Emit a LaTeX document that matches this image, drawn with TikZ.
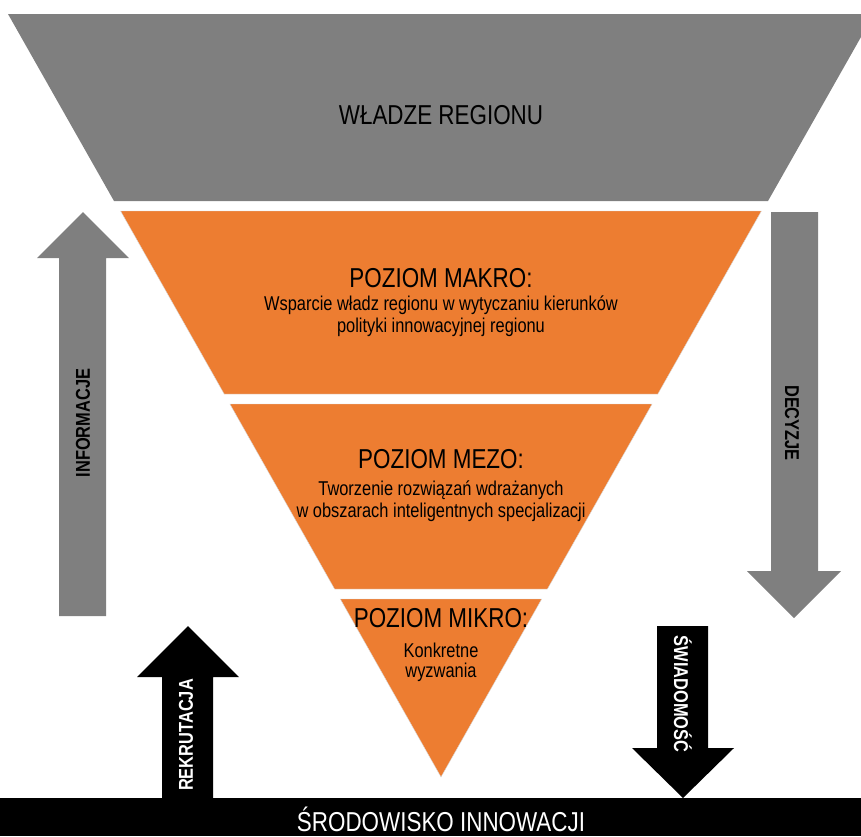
\documentclass[tikz,border=0pt]{standalone}
\usepackage{fontspec}
\setmainfont{Liberation Sans}[FakeStretch=0.82]
\definecolor{levelorange}{HTML}{ED7D31}
\definecolor{boxgray}{HTML}{7F7F7F}
\tikzset{
  level/.style={fill=levelorange,draw=white!70!gray,line width=0.3pt},
  leveltitle/.style={font=\fontsize{20.5}{24}\selectfont,anchor=base,inner sep=0pt},
  leveltext/.style={font=\fontsize{15}{16}\selectfont,anchor=base,align=center,inner sep=0pt},
  sidelabel/.style={font=\fontsize{15}{18}\selectfont\bfseries,inner sep=0pt},
}
\begin{document}
\begin{tikzpicture}[x=0.75pt,y=-0.75pt]
\useasboundingbox (0,0) rectangle (861,836);
\fill[boxgray] (8,14) -- (861,14) -- (861,37) -- (768,201) -- (114,201) -- cycle;
\node[leveltitle] (wladze) at (441,124) {WŁADZE REGIONU};
\filldraw[level] (120.6,211) -- (761.4,211) -- (657.8,394) -- (224.2,394) -- cycle;
\node[leveltitle] (makro) at (441,287) {POZIOM MAKRO:};
\node[leveltext] (makrotext) at (441,332) {Wsparcie władz regionu w wytyczaniu kierunków\\polityki innowacyjnej regionu};
\filldraw[level] (229.9,404) -- (652.1,404) -- (547.4,589) -- (334.6,589) -- cycle;
\node[leveltitle] (mezo) at (441,468) {POZIOM MEZO:};
\node[leveltext] (mezotext) at (441,517) {Tworzenie rozwiązań wdrażanych\\w obszarach inteligentnych specjalizacji};
\filldraw[level] (340.3,599) -- (541.7,599) -- (441,777) -- cycle;
\node[leveltitle] (mikro) at (441,627) {POZIOM MIKRO:};
\node[leveltext] (mikrotext) at (441,677) {Konkretne\\[-1pt]wyzwania};
\fill[boxgray] (59,616) -- (59,258) -- (37,258) -- (83,212) -- (129,258) -- (106,258) -- (106,616) -- cycle;
\node[sidelabel,rotate=90] (informacje) at (83,423) {INFORMACJE};
\fill[boxgray] (771,212) -- (818,212) -- (818,571) -- (841,571) -- (794,618) -- (747,571) -- (771,571) -- cycle;
\node[sidelabel,rotate=-90] (decyzje) at (792,423) {DECYZJE};
\fill[black] (162,798) -- (162,677) -- (137,677) -- (188,626) -- (239,677) -- (213,677) -- (213,798) -- cycle;
\node[sidelabel,rotate=90,white] (rekrutacja) at (186,735) {REKRUTACJA};
\fill[black] (657,626) -- (708,626) -- (708,748) -- (734,748) -- (683,798) -- (632,748) -- (657,748) -- cycle;
\node[sidelabel,rotate=-90,white] (swiadomosc) at (683,694) {ŚWIADOMOŚĆ};
\fill[black] (0,798) rectangle (861,836);
\node[leveltitle,white] (srodowisko) at (441,831) {ŚRODOWISKO INNOWACJI};
\end{tikzpicture}
\end{document}
